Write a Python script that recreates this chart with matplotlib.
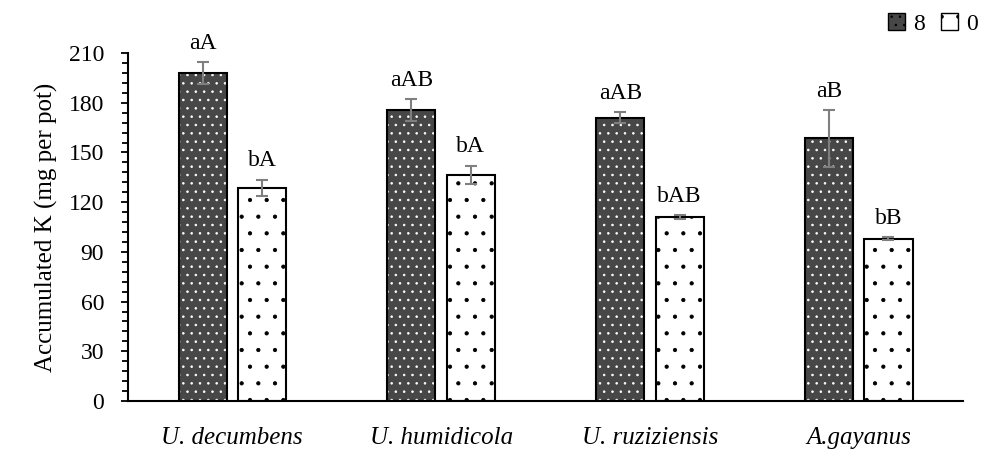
import matplotlib
matplotlib.use("Agg")
import matplotlib.pyplot as plt
from matplotlib.patches import Patch
from matplotlib.ticker import MultipleLocator
import numpy as np

species = ['U. decumbens', 'U. humidicola', 'U. ruziziensis', 'A.gayanus']
k8 = [198, 175.5, 171, 158.5]
k8_err = [6.5, 6.5, 3.5, 17]
k0 = [128.5, 136.5, 111, 98]
k0_err = [5, 5.5, 1, 1]
lab8 = ['aA', 'aAB', 'aAB', 'aB']
lab0 = ['bA', 'bA', 'bAB', 'bB']

plt.rcParams['font.family'] = ['Liberation Serif', 'DejaVu Serif']
plt.rcParams['hatch.linewidth'] = 0.6

fig = plt.figure(figsize=(9.91, 4.5), dpi=100)
ax = fig.add_axes([0.129, 0.109, 0.843, 0.773])

x = np.arange(len(species))
w = 0.23
off = 0.142
dark = '#474747'

# dark bars: fill + white dot hatch, then black outline
ax.bar(x - off, k8, w, color=dark, edgecolor='white', hatch='..', linewidth=0, zorder=2)
ax.bar(x - off, k8, w, fill=False, edgecolor='black', linewidth=1.5, zorder=3)
ax.bar(x + off, k0, w, color='white', edgecolor='black', hatch='.', linewidth=0, zorder=2)
ax.bar(x + off, k0, w, fill=False, edgecolor='black', linewidth=1.5, zorder=3)

ax.errorbar(x - off, k8, yerr=k8_err, fmt='none', ecolor='#7f7f7f', elinewidth=1.5,
            capsize=4.5, capthick=1.5, zorder=4)
ax.errorbar(x + off, k0, yerr=k0_err, fmt='none', ecolor='#7f7f7f', elinewidth=1.5,
            capsize=4.5, capthick=1.5, zorder=4)

for i in range(len(species)):
    ax.annotate(lab8[i], (x[i] - off, k8[i] + k8_err[i]), xytext=(0, 6),
                textcoords='offset points', ha='center', va='bottom', fontsize=17)
    ax.annotate(lab0[i], (x[i] + off, k0[i] + k0_err[i]), xytext=(0, 6),
                textcoords='offset points', ha='center', va='bottom', fontsize=17)

ax.set_xlim(-0.5, 3.5)
ax.set_ylim(0, 210)
ax.yaxis.set_major_locator(MultipleLocator(30))
ax.yaxis.set_minor_locator(MultipleLocator(6))
ax.tick_params(axis='y', which='major', length=5, width=1.3, labelsize=17,
               direction='out', pad=12)
ax.tick_params(axis='y', which='minor', length=4, width=1.3, direction='out')
ax.set_xticks(x)
ax.set_xticklabels(species, fontsize=18, style='italic')
ax.tick_params(axis='x', length=0, pad=19)
for s in ['top', 'right']:
    ax.spines[s].set_visible(False)
for s in ['left', 'bottom']:
    ax.spines[s].set_linewidth(1.5)
ax.set_ylabel('Accumulated K (mg per pot)', fontsize=18, labelpad=8)

handles = [Patch(facecolor=dark, edgecolor='black', hatch='..', label='8'),
           Patch(facecolor='white', edgecolor='black', hatch='.', label='0')]
leg = fig.legend(handles=handles, loc='upper right', bbox_to_anchor=(1.0, 1.0), ncol=2,
                 frameon=False, fontsize=17, handlelength=0.7, handleheight=0.7,
                 handletextpad=0.35, columnspacing=0.7, borderaxespad=0.15)

fig.savefig('out.png', dpi=100)
